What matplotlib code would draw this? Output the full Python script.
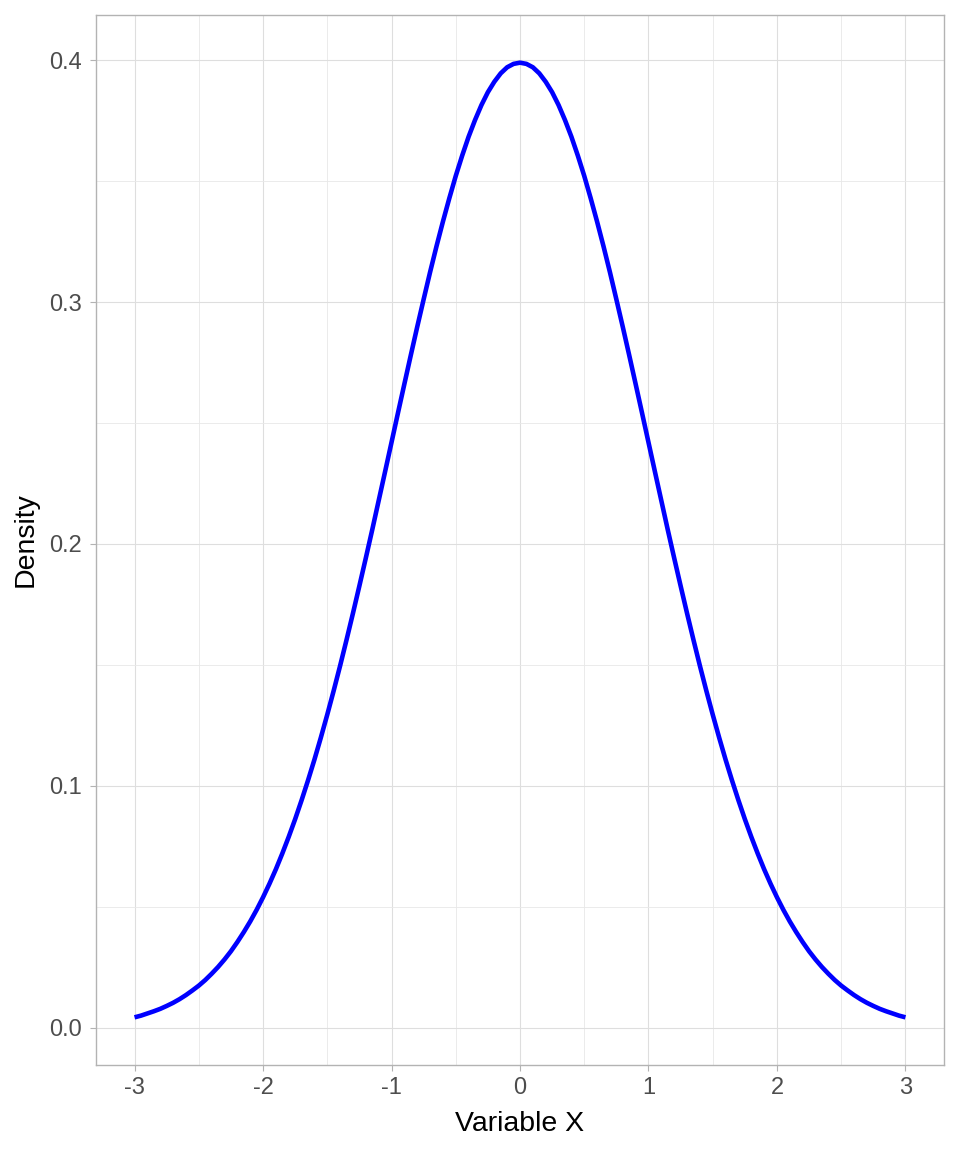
import matplotlib
matplotlib.use("Agg")
import matplotlib.pyplot as plt
from matplotlib.ticker import MultipleLocator

plt.rcParams['font.family'] = ['Liberation Sans', 'DejaVu Sans']

x_vals = [-3.00, -2.95, -2.90, -2.85, -2.80, -2.75, -2.70, -2.65, -2.60, -2.55,
          -2.50, -2.45, -2.40, -2.35, -2.30, -2.25, -2.20, -2.15, -2.10, -2.05,
          -2.00, -1.95, -1.90, -1.85, -1.80, -1.75, -1.70, -1.65, -1.60, -1.55,
          -1.50, -1.45, -1.40, -1.35, -1.30, -1.25, -1.20, -1.15, -1.10, -1.05,
          -1.00, -0.95, -0.90, -0.85, -0.80, -0.75, -0.70, -0.65, -0.60, -0.55,
          -0.50, -0.45, -0.40, -0.35, -0.30, -0.25, -0.20, -0.15, -0.10, -0.05,
          0.00,
          0.05, 0.10, 0.15, 0.20, 0.25, 0.30, 0.35, 0.40, 0.45, 0.50,
          0.55, 0.60, 0.65, 0.70, 0.75, 0.80, 0.85, 0.90, 0.95, 1.00,
          1.05, 1.10, 1.15, 1.20, 1.25, 1.30, 1.35, 1.40, 1.45, 1.50,
          1.55, 1.60, 1.65, 1.70, 1.75, 1.80, 1.85, 1.90, 1.95, 2.00,
          2.05, 2.10, 2.15, 2.20, 2.25, 2.30, 2.35, 2.40, 2.45, 2.50,
          2.55, 2.60, 2.65, 2.70, 2.75, 2.80, 2.85, 2.90, 2.95, 3.00]
density = [0.0044, 0.0051, 0.0060, 0.0069, 0.0079, 0.0091, 0.0104, 0.0119, 0.0136, 0.0155,
           0.0175, 0.0198, 0.0224, 0.0252, 0.0283, 0.0317, 0.0355, 0.0396, 0.0440, 0.0488,
           0.0540, 0.0596, 0.0656, 0.0721, 0.0790, 0.0863, 0.0941, 0.1023, 0.1109, 0.1200,
           0.1295, 0.1394, 0.1497, 0.1604, 0.1714, 0.1827, 0.1942, 0.2059, 0.2179, 0.2299,
           0.2420, 0.2541, 0.2661, 0.2780, 0.2897, 0.3011, 0.3123, 0.3230, 0.3332, 0.3429,
           0.3521, 0.3605, 0.3683, 0.3752, 0.3814, 0.3867, 0.3910, 0.3945, 0.3970, 0.3984,
           0.3989,
           0.3984, 0.3970, 0.3945, 0.3910, 0.3867, 0.3814, 0.3752, 0.3683, 0.3605, 0.3521,
           0.3429, 0.3332, 0.3230, 0.3123, 0.3011, 0.2897, 0.2780, 0.2661, 0.2541, 0.2420,
           0.2299, 0.2179, 0.2059, 0.1942, 0.1827, 0.1714, 0.1604, 0.1497, 0.1394, 0.1295,
           0.1200, 0.1109, 0.1023, 0.0941, 0.0863, 0.0790, 0.0721, 0.0656, 0.0596, 0.0540,
           0.0488, 0.0440, 0.0396, 0.0355, 0.0317, 0.0283, 0.0252, 0.0224, 0.0198, 0.0175,
           0.0155, 0.0136, 0.0119, 0.0104, 0.0091, 0.0079, 0.0069, 0.0060, 0.0051, 0.0044]
x_ticks = [-3, -2, -1, 0, 1, 2, 3]
y_ticks = [0.0, 0.1, 0.2, 0.3, 0.4]
y_tick_labels = ["0.0", "0.1", "0.2", "0.3", "0.4"]

fig = plt.figure(figsize=(9.6, 11.52), dpi=100)
ax = fig.add_axes([96/960, 1 - 1065/1152, (944-96)/960, (1065-15)/1152])

ax.plot(x_vals, density, color="#0000ff", linewidth=3.3,
        solid_joinstyle="round", solid_capstyle="butt", zorder=3)

ax.set_xlim(-3.3, 3.3)
ax.set_ylim(-0.0153, 0.4186)
ax.set_xticks(x_ticks)
ax.set_xticklabels([str(t) for t in x_ticks])
ax.set_yticks(y_ticks)
ax.set_yticklabels(y_tick_labels)
ax.xaxis.set_minor_locator(MultipleLocator(0.5))
ax.yaxis.set_minor_locator(MultipleLocator(0.05))

ax.grid(which="major", color="#dedede", linewidth=0.8, zorder=0)
ax.grid(which="minor", color="#e8e8e8", linewidth=0.6, zorder=0)
ax.set_axisbelow(True)

for s in ax.spines.values():
    s.set_color("#b3b3b3")
    s.set_linewidth(1.0)

ax.tick_params(which="major", length=4.5, width=0.8, color="#b3b3b3",
               labelsize=17, labelcolor="#4d4d4d", pad=4)
ax.tick_params(axis="y", which="major", pad=5.5)
ax.tick_params(which="minor", length=0)

ax.set_xlabel("Variable X", fontsize=20.5, color="black", labelpad=9)
ax.set_ylabel("Density", fontsize=20.5, color="black", labelpad=8)

fig.savefig("out.png", dpi=100)
